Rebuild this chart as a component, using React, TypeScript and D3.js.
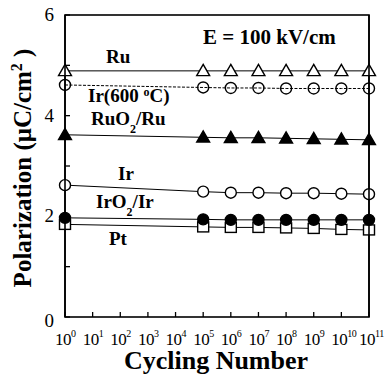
import React, { useRef, useEffect } from 'react';
import * as d3 from 'd3';

const exponents = [0, 5, 6, 7, 8, 9, 10, 11];
const ru = [4.89, 4.89, 4.89, 4.89, 4.89, 4.89, 4.89, 4.89];
const ir600 = [4.61, 4.56, 4.55, 4.55, 4.54, 4.54, 4.54, 4.54];
const ruo2 = [3.62, 3.57, 3.56, 3.56, 3.55, 3.54, 3.53, 3.52];
const ir = [2.62, 2.49, 2.47, 2.47, 2.46, 2.46, 2.45, 2.44];
const iro2 = [1.97, 1.94, 1.93, 1.93, 1.93, 1.93, 1.93, 1.93];
const pt = [1.84, 1.79, 1.78, 1.78, 1.77, 1.76, 1.74, 1.73];
const xTickExps = d3.range(0, 12);
const yTicks = [0, 1, 2, 3, 4, 5, 6];
const yLabels = [0, 2, 4, 6];

const App = () => {
    const ref = useRef<SVGSVGElement>(null);

    useEffect(() => {
        const svg = d3.select(ref.current);
        svg.selectAll('*').remove();

        const left = 65, right = 369, top = 15, bottom = 317;
        const x = d3.scaleLog().domain([1, 1e11]).range([left, right]);
        const y = d3.scaleLinear().domain([0, 6]).range([bottom, top]);

        // frame
        svg.append('rect')
            .attr('x', left).attr('y', top)
            .attr('width', right - left).attr('height', bottom - top)
            .attr('fill', 'none').attr('stroke', '#000').attr('stroke-width', 1.6);

        // ticks (inward)
        svg.append('g').selectAll('line').data(xTickExps).enter().append('line')
            .attr('x1', d => x(Math.pow(10, d))).attr('x2', d => x(Math.pow(10, d)))
            .attr('y1', bottom).attr('y2', bottom - 5)
            .attr('stroke', '#000').attr('stroke-width', 1.3);
        svg.append('g').selectAll('line').data(yTicks).enter().append('line')
            .attr('x1', left).attr('x2', left + 5)
            .attr('y1', d => y(d)).attr('y2', d => y(d))
            .attr('stroke', '#000').attr('stroke-width', 1.3);

        // x tick labels
        const xl = svg.append('g').selectAll('text').data(xTickExps).enter().append('text')
            .attr('x', d => x(Math.pow(10, d)) - 10)
            .attr('y', 345)
            .attr('font-size', 17)
            .attr('letter-spacing', -0.5);
        xl.append('tspan').text('10');
        xl.append('tspan').attr('dy', -8).attr('font-size', 10).text(d => String(d));

        // y tick labels
        svg.append('g').selectAll('text').data(yLabels).enter().append('text')
            .attr('x', 54).attr('y', d => y(d) + (d === 0 ? 10 : 6))
            .attr('text-anchor', 'end')
            .attr('font-size', 19)
            .text(d => String(d));

        // axis titles
        svg.append('text')
            .attr('x', 216).attr('y', 369)
            .attr('text-anchor', 'middle')
            .attr('font-size', 26).attr('font-weight', 'bold')
            .text('Cycling Number');
        const yt = svg.append('text')
            .attr('transform', 'translate(31,168) rotate(-90)')
            .attr('text-anchor', 'middle')
            .attr('font-size', 25).attr('font-weight', 'bold');
        yt.append('tspan').text('Polarization (\u03bcC/cm');
        yt.append('tspan').attr('dy', -9).attr('font-size', 16).text('2');
        yt.append('tspan').attr('dy', 9).text(' )');

        const px = exponents.map(e => x(Math.pow(10, e)));
        const line = (vals: number[]) => d3.line<number>().x((_, i) => px[i]).y(v => y(v))(vals);

        const drawLine = (vals: number[], dash?: string) => {
            svg.append('path').attr('d', line(vals))
                .attr('fill', 'none').attr('stroke', '#000').attr('stroke-width', 1)
                .attr('stroke-dasharray', dash || null);
        };

        [ru, ruo2, ir, iro2, pt].forEach(v => drawLine(v));
        drawLine(ir600, '3,1.5');

        const tri = d3.symbol().type(d3.symbolTriangle).size(72);
        const drawTri = (vals: number[], fill: string) => {
            svg.append('g').selectAll('path').data(vals).enter().append('path')
                .attr('d', tri)
                .attr('transform', (v, i) => `translate(${px[i]},${y(v) + 1})`)
                .attr('fill', fill).attr('stroke', '#000').attr('stroke-width', 1.4);
        };
        const drawCircle = (vals: number[], fill: string) => {
            svg.append('g').selectAll('circle').data(vals).enter().append('circle')
                .attr('cx', (_, i) => px[i]).attr('cy', v => y(v)).attr('r', 5.5)
                .attr('fill', fill).attr('stroke', '#000').attr('stroke-width', 1.4);
        };

        drawTri(ru, '#fff');
        drawCircle(ir600, 'none');
        drawTri(ruo2, '#000');
        drawCircle(ir, '#fff');
        // Pt squares
        svg.append('g').selectAll('rect').data(pt).enter().append('rect')
            .attr('x', (_, i) => px[i] - 5.5).attr('y', v => y(v) - 5)
            .attr('width', 11).attr('height', 10)
            .attr('fill', '#fff').attr('stroke', '#000').attr('stroke-width', 1.4);
        drawCircle(iro2, '#000');

        // redraw the left/right axis line over markers
        svg.append('line').attr('x1', left).attr('x2', left).attr('y1', top).attr('y2', bottom)
            .attr('stroke', '#000').attr('stroke-width', 1.6);
        svg.append('line').attr('x1', right).attr('x2', right).attr('y1', top).attr('y2', bottom)
            .attr('stroke', '#000').attr('stroke-width', 1.6);

        // series labels
        const label = (tx: number, ty: number, parts: [string, number][]) => {
            const t = svg.append('text').attr('x', tx).attr('y', ty)
                .attr('font-size', 19).attr('font-weight', 'bold');
            parts.forEach(([s, dy]) => {
                const sp = t.append('tspan').text(s);
                if (dy !== 0) sp.attr('dy', dy);
                if (s === '2' || s === 'o') sp.attr('font-size', 12);
            });
        };
        label(106, 63, [['Ru', 0]]);
        label(88, 102, [['Ir(600 ', 0], ['o', -6], ['C)', 6]]);
        label(91, 125, [['RuO', 0], ['2', 8], ['/Ru', -8]]);
        label(118, 180, [['Ir', 0]]);
        label(96, 208, [['IrO', 0], ['2', 8], ['/Ir', -8]]);
        label(109, 245, [['Pt', 0]]);

        svg.append('text').attr('x', 203).attr('y', 44)
            .attr('font-size', 21).attr('font-weight', 'bold')
            .text('E = 100 kV/cm');
    }, []);

    return (
        <svg ref={ref} width={389} height={374} fontFamily="Liberation Serif"
            style={{ position: 'absolute', left: 0, top: 0, background: '#fff' }} />
    );
};

export default App;
